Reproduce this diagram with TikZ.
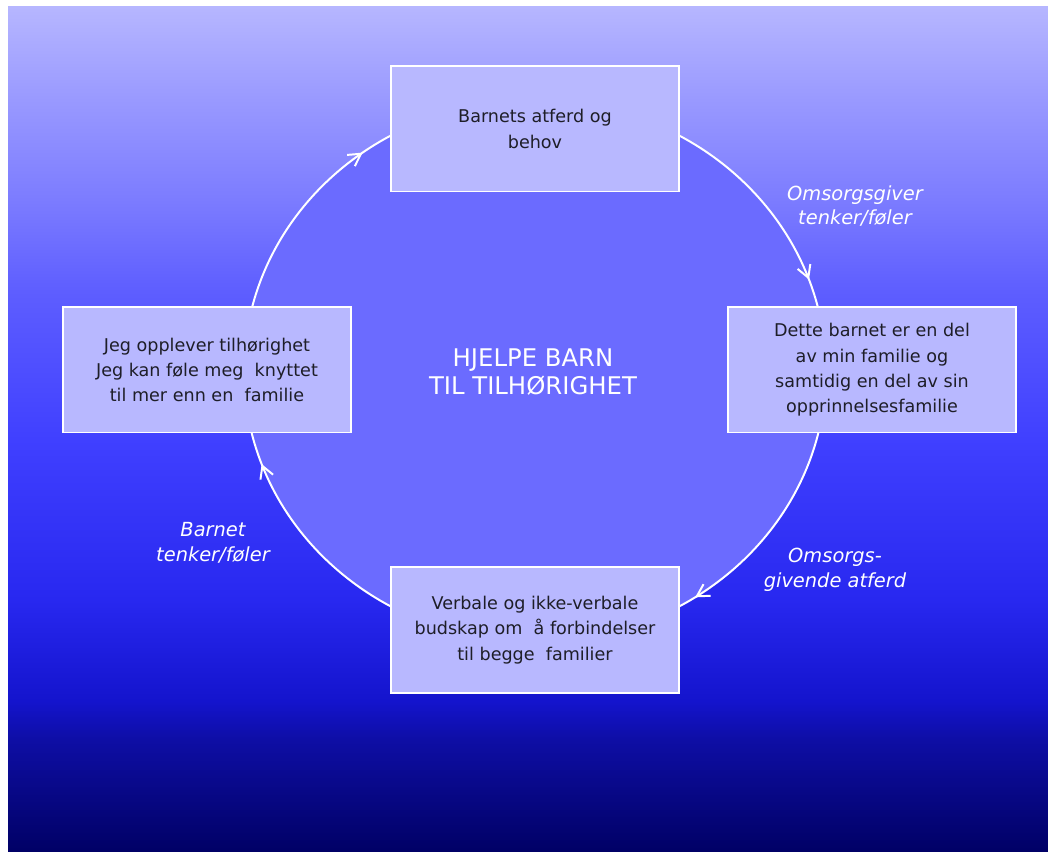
\documentclass[tikz,border=0pt]{standalone}
\usepackage{fontspec}
\setmainfont{DejaVu Sans}
\usetikzlibrary{
    arrows.meta,                      % Straight Barb
    calc,                             % ($(a)+(t:rx and ry)$)
    decorations.markings              % pilspiss midt paa buen
}
\definecolor{bunn}{RGB}{0,0,102}
\definecolor{bla1}{RGB}{8,8,135}
\definecolor{bla2}{RGB}{14,14,165}
\definecolor{bla3}{RGB}{20,20,205}
\definecolor{bla4}{RGB}{40,40,240}
\definecolor{bla5}{RGB}{64,64,255}
\definecolor{bla6}{RGB}{94,94,255}
\definecolor{bla7}{RGB}{124,124,255}
\definecolor{bla8}{RGB}{150,150,255}
\definecolor{topp}{RGB}{182,182,255}
\definecolor{ringfyll}{RGB}{107,107,255}
\definecolor{boksfyll}{RGB}{184,184,255}
\definecolor{tekstgraa}{RGB}{30,30,40}
\pgfdeclareverticalshading{bakgrunn}{100bp}{
    color(0bp)=(bunn); color(25bp)=(bunn); color(28.6bp)=(bla1);
    color(31.6bp)=(bla2); color(33.9bp)=(bla3); color(39.9bp)=(bla4);
    color(49.4bp)=(bla5); color(58.2bp)=(bla6); color(63.6bp)=(bla7);
    color(68.9bp)=(bla8); color(75bp)=(topp); color(100bp)=(topp)}
\tikzset{
    boks/.style={
        rectangle, draw=white, line width=1.4pt, fill=boksfyll,
        minimum width=7.2cm, minimum height=3.125cm,
        align=center, text=tekstgraa, inner sep=2pt,
        font=\fontsize{12.5}{18}\selectfont
    },
    merke/.style={
        text=white, align=center,
        font=\fontsize{13.8}{17.7}\selectfont\itshape
    },
    ring/.style={
        draw=white, line width=1.4pt
    },
    bue/.style={
        x radius=7.275cm, y radius=6.775cm
    },
    pil/.style={
        decoration={markings, mark=at position #1 with
            {\arrow{Straight Barb[length=3mm,width=3.4mm]}}},
        postaction={decorate}
    }
}

\begin{document}
\begin{tikzpicture}[x=0.025cm, y=0.025cm]
    \useasboundingbox (0,0) rectangle (1048,851);
    \fill[white] (0,0) rectangle (1048,851);
    \shade[shading=bakgrunn] (8,0) rectangle (1048,844);

    % sirkelen
    \coordinate (sentrum) at (535,480);
    \fill[ringfyll] (sentrum) ellipse [bue];

    \draw[ring, pil=0.87] ($(sentrum)+(60.3:7.275cm and 6.775cm)$)
        arc[bue, start angle=60.3, end angle=13.5];
    \draw[ring, pil=0.92] ($(sentrum)+(-13.1:7.275cm and 6.775cm)$)
        arc[bue, start angle=-13.1, end angle=-60.3];
    \draw[ring, pil=0.855] ($(sentrum)+(-119.7:7.275cm and 6.775cm)$)
        arc[bue, start angle=-119.7, end angle=-166.9];
    \draw[ring, pil=0.855] ($(sentrum)+(166.5:7.275cm and 6.775cm)$)
        arc[bue, start angle=166.5, end angle=119.7];

    % boksene
    \node[boks] (atferd) at (535,722) {Barnets atferd og\\behov};
    \node[boks] (familie) at (872,481)
        {Dette barnet er en del\\av min familie og\\samtidig en del av sin\\opprinnelsesfamilie};
    \node[boks] (budskap) at (535,221)
        {Verbale og ikke-verbale\\budskap om\ \ å forbindelser\\til begge\ \ familier};
    \node[boks] (tilhor) at (207,481)
        {Jeg opplever tilhørighet\\Jeg kan føle meg\ \ knyttet\\til mer enn en\ \ familie};

    \node[text=white, align=center, font=\fontsize{17.3}{19.8}\selectfont] (tittel)
        at (533,479) {HJELPE BARN\\TIL TILHØRIGHET};

    \node[merke] (giver) at (855,645) {Omsorgsgiver\\tenker/føler};
    \node[merke] (givende) at (835,281) {Omsorgs-\\givende atferd};
    \node[merke] (barnet) at (213,308) {Barnet\\tenker/føler};
\end{tikzpicture}
\end{document}
